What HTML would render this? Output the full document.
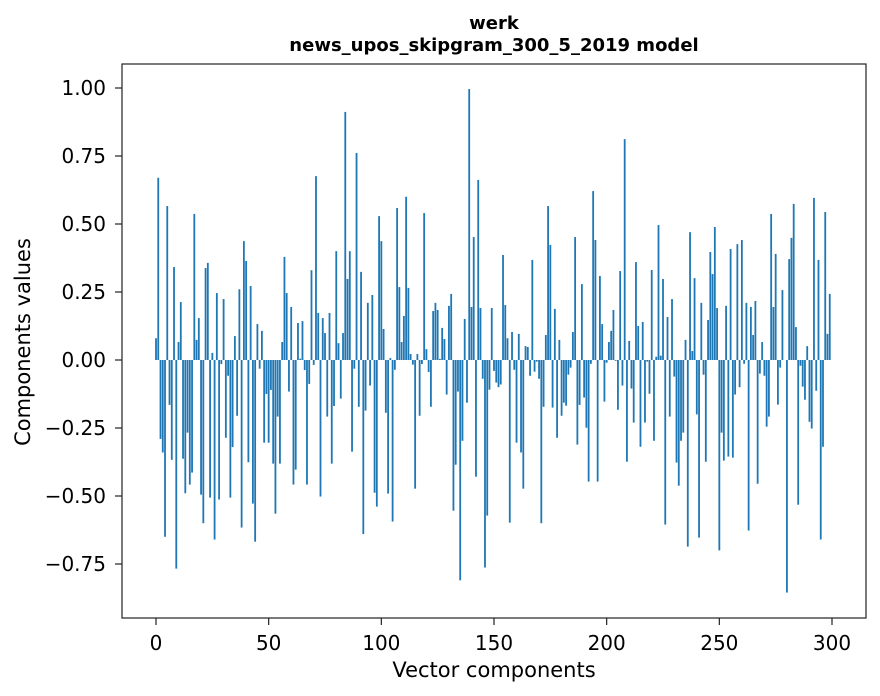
<!DOCTYPE html>
<html><head><meta charset="utf-8"><style>
html,body{margin:0;padding:0;background:#fff;}
svg{display:block;font-family:"DejaVu Sans","Liberation Sans",sans-serif;}
</style></head><body>
<svg id="chart" width="880" height="696" viewBox="0 0 880 696">
<rect width="880" height="696" fill="#fff"/>
<text x="494" y="29" text-anchor="middle" font-size="18" font-weight="bold">werk</text>
<text x="494" y="51" text-anchor="middle" font-size="18" font-weight="bold">news_upos_skipgram_300_5_2019 model</text>
<g id="bars"></g>
<g id="xticks"></g>
<g id="yticks"></g>
<rect x="122" y="64" width="744" height="554" fill="none" stroke="#222" stroke-width="1.2"/>
<text x="494" y="677" text-anchor="middle" font-size="21">Vector components</text>
<text transform="translate(30,342) rotate(-90)" text-anchor="middle" font-size="21">Components values</text>
</svg>
<script>
const values = [0.08,0.67,-0.29,-0.34,-0.65,0.566,-0.165,-0.367,0.342,-0.767,
0.066,0.213,-0.363,-0.49,-0.267,-0.458,-0.414,0.537,0.074,0.154,
-0.495,-0.60,0.338,0.357,-0.506,0.026,-0.66,0.246,-0.513,-0.015,
0.224,-0.286,-0.058,-0.506,-0.32,0.088,-0.205,0.26,-0.616,0.437,
0.364,-0.376,0.272,-0.528,-0.668,0.132,-0.032,0.107,-0.304,-0.125,
-0.304,-0.11,-0.381,-0.565,-0.208,-0.381,0.066,0.379,0.246,-0.116,
0.195,-0.458,-0.403,0.136,0.005,0.143,-0.037,-0.458,-0.088,0.33,
-0.018,0.676,0.173,-0.502,0.154,0.099,-0.208,0.173,-0.381,-0.169,
0.40,0.062,-0.142,0.099,0.912,0.298,0.40,-0.337,-0.032,0.761,
-0.172,0.324,-0.64,-0.186,0.21,-0.094,0.239,-0.488,-0.539,0.529,
0.437,0.114,-0.194,-0.491,0.007,-0.594,-0.036,0.559,0.268,0.066,
0.162,0.60,0.265,0.022,-0.017,-0.473,0.022,-0.205,-0.015,0.54,
0.04,-0.044,-0.172,0.18,0.21,0.184,0.004,0.118,0.077,-0.127,
0.199,0.243,-0.554,-0.385,-0.116,-0.81,-0.297,0.151,-0.157,0.996,
0.195,0.452,-0.429,0.662,0.191,-0.069,-0.763,-0.572,-0.109,0.191,
-0.04,-0.083,-0.10,-0.09,0.386,0.202,0.08,-0.598,0.103,-0.036,
-0.304,0.096,-0.34,-0.473,0.051,0.048,-0.058,0.368,-0.043,-0.006,
-0.069,-0.60,-0.172,0.092,0.566,0.423,-0.175,0.188,-0.286,0.074,
-0.205,-0.157,-0.168,-0.054,-0.028,0.103,0.452,-0.311,-0.165,0.279,
-0.138,-0.249,-0.447,-0.014,0.621,0.441,-0.447,0.309,0.132,-0.153,
-0.01,0.066,0.107,0.184,-0.003,-0.183,0.327,-0.094,0.812,-0.374,
0.07,-0.105,-0.23,0.36,0.125,-0.319,0.14,-0.23,-0.006,-0.124,
0.331,-0.297,0.012,0.496,0.016,0.298,-0.605,0.158,-0.208,0.224,
-0.061,-0.377,-0.462,-0.297,-0.267,0.074,-0.686,0.47,0.033,0.301,
-0.20,-0.653,0.21,-0.054,-0.374,0.147,0.397,0.316,0.489,0.191,
-0.70,-0.267,-0.37,0.199,-0.355,0.408,-0.359,-0.127,0.426,-0.10,
0.441,-0.014,0.21,-0.627,0.195,0.092,0.217,-0.455,-0.05,0.066,
-0.058,-0.245,-0.208,0.537,0.195,0.39,-0.164,-0.028,0.257,0,
-0.855,0.371,0.449,0.574,0.121,-0.532,-0.021,-0.098,-0.146,0.051,
-0.227,-0.252,0.596,-0.113,0.368,-0.66,-0.319,0.544,0.096,0.243];
const xTickValues = [0,50,100,150,200,250,300];
const xTickLabels = ["0","50","100","150","200","250","300"];
const yTickValues = [-0.75,-0.5,-0.25,0,0.25,0.5,0.75,1.0];
const yTickLabels = ["\u22120.75","\u22120.50","\u22120.25","0.00","0.25","0.50","0.75","1.00"];

const NS = "http://www.w3.org/2000/svg";
const xScale = v => 156 + v * (676 / 300);
const yScale = v => 360 - v * 272;
const barsG = document.getElementById('bars');
const bw = 0.8 * 676 / 300;
values.forEach((v, i) => {
  const r = document.createElementNS(NS, 'rect');
  const y0 = yScale(0), y1 = yScale(v);
  r.setAttribute('x', xScale(i) - bw / 2);
  r.setAttribute('y', Math.min(y0, y1));
  r.setAttribute('width', bw);
  r.setAttribute('height', Math.max(Math.abs(y1 - y0), 0.01));
  r.setAttribute('fill', '#1f77b4');
  
  
  barsG.appendChild(r);
});
const xg = document.getElementById('xticks');
xTickValues.forEach((t, i) => {
  const x = xScale(t);
  const l = document.createElementNS(NS, 'line');
  l.setAttribute('x1', x); l.setAttribute('x2', x);
  l.setAttribute('y1', 618); l.setAttribute('y2', 625);
  l.setAttribute('stroke', '#222'); l.setAttribute('stroke-width', '1.2');
  
  
  xg.appendChild(l);
  const tx = document.createElementNS(NS, 'text');
  tx.setAttribute('x', x); tx.setAttribute('y', 650);
  tx.setAttribute('text-anchor', 'middle'); tx.setAttribute('font-size', '20');
  tx.textContent = xTickLabels[i];
  
  
  xg.appendChild(tx);
});
const yg = document.getElementById('yticks');
yTickValues.forEach((t, i) => {
  const y = yScale(t);
  const l = document.createElementNS(NS, 'line');
  l.setAttribute('x1', 115); l.setAttribute('x2', 122);
  l.setAttribute('y1', y); l.setAttribute('y2', y);
  l.setAttribute('stroke', '#222'); l.setAttribute('stroke-width', '1.2');
  
  
  yg.appendChild(l);
  const tx = document.createElementNS(NS, 'text');
  tx.setAttribute('x', 106); tx.setAttribute('y', y + 7);
  tx.setAttribute('text-anchor', 'end'); tx.setAttribute('font-size', '20');
  tx.textContent = yTickLabels[i];
  
  
  yg.appendChild(tx);
});
</script>
</body></html>
